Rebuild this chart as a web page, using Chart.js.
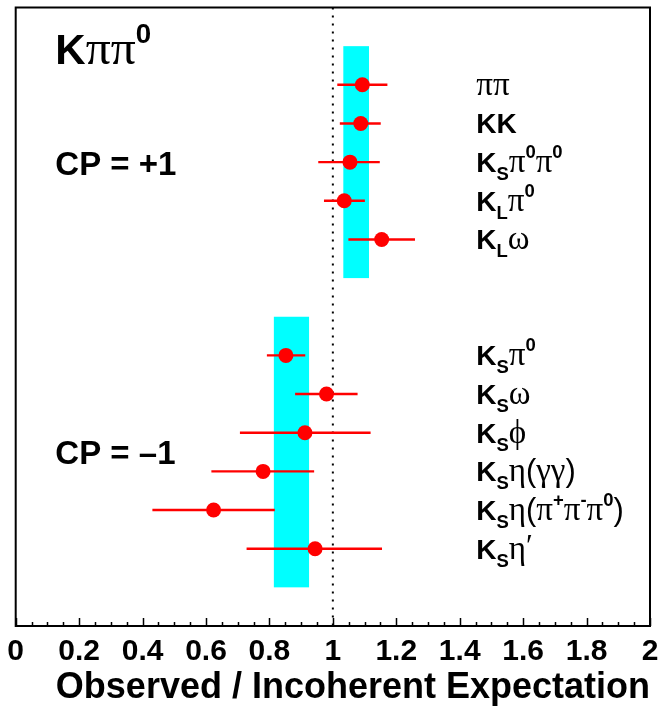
<!DOCTYPE html>
<html>
<head>
<meta charset="utf-8">
<script src="https://cdn.jsdelivr.net/npm/chart.js@4"></script>
<style>
  html, body { margin: 0; padding: 0; background: #ffffff; }
  #wrap { width: 659px; height: 710px; position: relative; }
</style>
</head>
<body>
<div id="wrap"><canvas id="c"></canvas></div>
<script>
// ---- data ----
const categories = ['ππ', 'KK', 'K_{S}π^{0}π^{0}', 'K_{L}π^{0}', 'K_{L}ω',
  'K_{S}π^{0}', 'K_{S}ω', 'K_{S}ϕ', 'K_{S}η(γγ)', 'K_{S}η(π^{+}π^{-}π^{0})', 'K_{S}η^{′}'];
const rowIndex = [2, 3, 4, 5, 6, 9, 10, 11, 12, 13, 14];
const ratio   = [1.093, 1.088, 1.054, 1.036, 1.154, 0.852, 0.980, 0.912, 0.780, 0.624, 0.944];
const errLow  = [1.014, 1.022, 0.954, 0.972, 1.049, 0.792, 0.881, 0.707, 0.617, 0.431, 0.728];
const errHigh = [1.172, 1.151, 1.148, 1.101, 1.259, 0.913, 1.078, 1.119, 0.941, 0.817, 1.155];
const bandGroups = ['CP = +1', 'CP = –1'];
const bandLow  = [1.033, 0.814];
const bandHigh = [1.114, 0.925];
const bandRowFrom = [1, 8];
const bandRowTo   = [7, 15];
const xTickValues = [0, 0.2, 0.4, 0.6, 0.8, 1, 1.2, 1.4, 1.6, 1.8, 2];
const xTickLabels = ['0', '0.2', '0.4', '0.6', '0.8', '1', '1.2', '1.4', '1.6', '1.8', '2'];
const reference = 1;

const SANS = "'Liberation Sans', Arial, sans-serif";
const SERIF = "'Liberation Serif', 'Times New Roman', serif";
const RED = '#ff0000';
const CYAN = '#00ffff';

// ---- rich text drawing (sub/superscripts, greek in serif) ----
function isGreek(ch) { return /[\u0370-\u03FF\u2032]/.test(ch); }
function parseMarkup(s) {
  const out = [];
  let i = 0;
  while (i < s.length) {
    const ch = s[i];
    if ((ch === '_' || ch === '^') && s[i + 1] === '{') {
      const end = s.indexOf('}', i + 2);
      out.push({ text: s.slice(i + 2, end), mode: ch === '_' ? 'sub' : 'sup' });
      i = end + 1;
    } else {
      out.push({ text: ch, mode: 'base' });
      i++;
    }
  }
  return out;
}
function drawRich(ctx, markup, x, y, size) {
  const segs = parseMarkup(markup);
  let cx = x;
  ctx.textBaseline = 'alphabetic';
  ctx.textAlign = 'left';
  ctx.fillStyle = '#000';
  for (const seg of segs) {
    for (const ch of seg.text) {
      let fs = size, dy = 0;
      if (seg.mode === 'sub') { fs = size * 0.66; dy = size * 0.28; }
      if (seg.mode === 'sup') { fs = size * 0.66; dy = -size * 0.5; }
      if (ch === '\u2032') {
        ctx.font = (size * 1.1) + 'px ' + SERIF;
        dy = -size * 0.1;
      } else if (isGreek(ch)) {
        ctx.font = (seg.mode === 'base' ? fs * 1.18 : fs) + 'px ' + SERIF;
      } else if (ch === '(' || ch === ')') {
        ctx.font = (fs * 1.1) + 'px ' + SANS;
      } else {
        ctx.font = 'bold ' + fs + 'px ' + SANS;
      }
      ctx.fillText(ch, cx, y + dy);
      cx += ctx.measureText(ch).width;
    }
  }
}

// ---- plugin: bands, frame, inner ticks, annotations ----
const decor = {
  id: 'decor',
  beforeDatasetsDraw(chart) {
    const { ctx, scales: { x, y } } = chart;
    ctx.save();
    ctx.fillStyle = CYAN;
    for (let i = 0; i < bandLow.length; i++) {
      const x0 = x.getPixelForValue(bandLow[i]);
      const x1 = x.getPixelForValue(bandHigh[i]);
      const y0 = y.getPixelForValue(bandRowFrom[i]);
      const y1 = y.getPixelForValue(bandRowTo[i]);
      ctx.fillRect(x0, y0, x1 - x0, y1 - y0);
    }
    ctx.restore();
  },
  afterDraw(chart) {
    const { ctx, chartArea: a, scales: { x, y } } = chart;
    ctx.save();
    // frame
    ctx.strokeStyle = '#000';
    ctx.lineWidth = 2;
    ctx.strokeRect(a.left, a.top, a.right - a.left, a.bottom - a.top);
    // ticks pointing inward on the bottom axis
    ctx.lineWidth = 1.5;
    ctx.beginPath();
    for (let k = 0; k <= 40; k++) {
      const v = k * 0.05;
      const px = Math.round(x.getPixelForValue(v)) + 0.5;
      const len = (k % 4 === 0) ? 8 : 4;
      ctx.moveTo(px, a.bottom);
      ctx.lineTo(px, a.bottom - len);
    }
    ctx.stroke();
    // row labels
    const lx = x.getPixelForValue(1.452);
    for (let i = 0; i < categories.length; i++) {
      drawRich(ctx, categories[i], lx, y.getPixelForValue(rowIndex[i]) + 10, 28);
    }
    // annotations
    const ax = x.getPixelForValue(0.125);
    drawRich(ctx, 'Kππ^{0}', ax, y.getPixelForValue(1.08) + 15, 42);
    ctx.font = 'bold 33px ' + SANS;
    ctx.fillStyle = '#000';
    ctx.fillText(bandGroups[0], ax, y.getPixelForValue(4.03) + 12);
    ctx.fillText(bandGroups[1], ax, y.getPixelForValue(11.5) + 12);
    ctx.restore();
  }
};

// ---- datasets ----
const datasets = [];
datasets.push({
  label: 'ratio',
  data: ratio.map((v, i) => ({ x: v, y: rowIndex[i] })),
  pointRadius: 7.5,
  pointHoverRadius: 7.5,
  pointBackgroundColor: RED,
  pointBorderWidth: 0,
  showLine: false,
  order: 0
});
for (let i = 0; i < ratio.length; i++) {
  datasets.push({
    label: 'err' + i,
    data: [{ x: errLow[i], y: rowIndex[i] }, { x: errHigh[i], y: rowIndex[i] }],
    showLine: true,
    borderColor: RED,
    borderWidth: 2.4,
    pointRadius: 0,
    order: 1
  });
}
datasets.push({
  label: 'reference',
  data: [{ x: reference, y: 0 }, { x: reference, y: 16 }],
  showLine: true,
  borderColor: '#000',
  borderWidth: 2,
  borderDash: [2, 6],
  pointRadius: 0,
  order: 2
});

new Chart(document.getElementById('c'), {
  type: 'scatter',
  data: { datasets },
  options: {
    responsive: true,
    maintainAspectRatio: false,
    animation: false,
    events: [],
    layout: { padding: { left: 15.7, right: 9, top: 6, bottom: 0 } },
    plugins: { legend: { display: false }, tooltip: { enabled: false } },
    scales: {
      x: {
        type: 'linear',
        min: 0, max: 2,
        afterBuildTicks(scale) { scale.ticks = xTickValues.map(v => ({ value: v })); },
        afterFit(scale) {
          scale.height = 84;
          scale.paddingLeft = 0;
          scale.paddingRight = 0;
        },
        grid: { display: false, drawTicks: false, tickLength: 0 },
        border: { display: false },
        ticks: {
          autoSkip: false,
          maxRotation: 0,
          padding: 8,
          color: '#000',
          font: { family: SANS, weight: 'bold', size: 30 },
          callback(value) {
            const idx = xTickValues.findIndex(t => Math.abs(t - value) < 1e-9);
            return idx >= 0 ? xTickLabels[idx] : '';
          }
        },
        title: {
          display: true,
          text: 'Observed / Incoherent Expectation',
          align: 'end',
          color: '#000',
          padding: { top: 0, bottom: 0 },
          font: { family: SANS, weight: 'bold', size: 36, lineHeight: 1.2 }
        }
      },
      y: {
        type: 'linear',
        display: false,
        reverse: true,
        min: 0, max: 16
      }
    }
  },
  plugins: [decor]
});
</script>
</body>
</html>
